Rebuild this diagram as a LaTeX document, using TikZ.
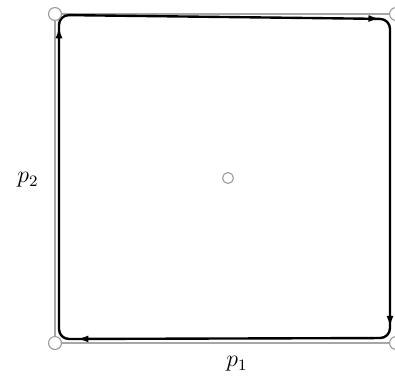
\documentclass[tikz,border=0pt]{standalone}
\usepackage{amsmath}
\usepackage{tikz}
\usetikzlibrary{arrows.meta,decorations.markings}

\begin{document}
\begin{tikzpicture}[
    x=0.01772cm,
    y=-0.01772cm,
    >=Latex,
    line cap=round,
    line join=round,
    font=\large,
    edge/.style={gray!70, line width=0.8pt},
    orbit/.style={line width=1.2pt, rounded corners=5pt},
    fixpt/.style={circle, draw=gray!80, fill=white, line width=0.55pt, minimum size=6.5pt, inner sep=0pt},
    tip/.style={decoration={markings,
        mark=at position 0.235 with {\arrow{Latex[length=6pt,width=3.5pt]}},
        mark=at position 0.490 with {\arrow{Latex[length=6pt,width=3.5pt]}},
        mark=at position 0.734 with {\arrow{Latex[length=6pt,width=3.5pt]}},
        mark=at position 0.982 with {\arrow{Latex[length=6pt,width=3.5pt]}}},
        postaction={decorate}}
]

\useasboundingbox (0,0) rectangle (395,379);

% Corners of the simplex
\coordinate (A) at (55,14);
\coordinate (B) at (396,14);
\coordinate (C) at (396,343);
\coordinate (D) at (55,343);

% Boundary
\draw[edge] (A) -- (B) -- (C) -- (D) -- cycle;

% Orbit near the boundary
\draw[orbit, tip] (59,339) -- (59,15) -- (390,19) -- (390,338) -- cycle;

% Fixed points
\node[fixpt] (nA) at (A) {};
\node[fixpt] (nB) at (B) {};
\node[fixpt] (nC) at (C) {};
\node[fixpt] (nD) at (D) {};
\node[fixpt, minimum size=5.5pt] (mid) at (228,178) {};

% Axis labels
\node (ptwo) at (28,180) {$p_2$};
\node (pone) at (237,364) {$p_1$};

\end{tikzpicture}
\end{document}
